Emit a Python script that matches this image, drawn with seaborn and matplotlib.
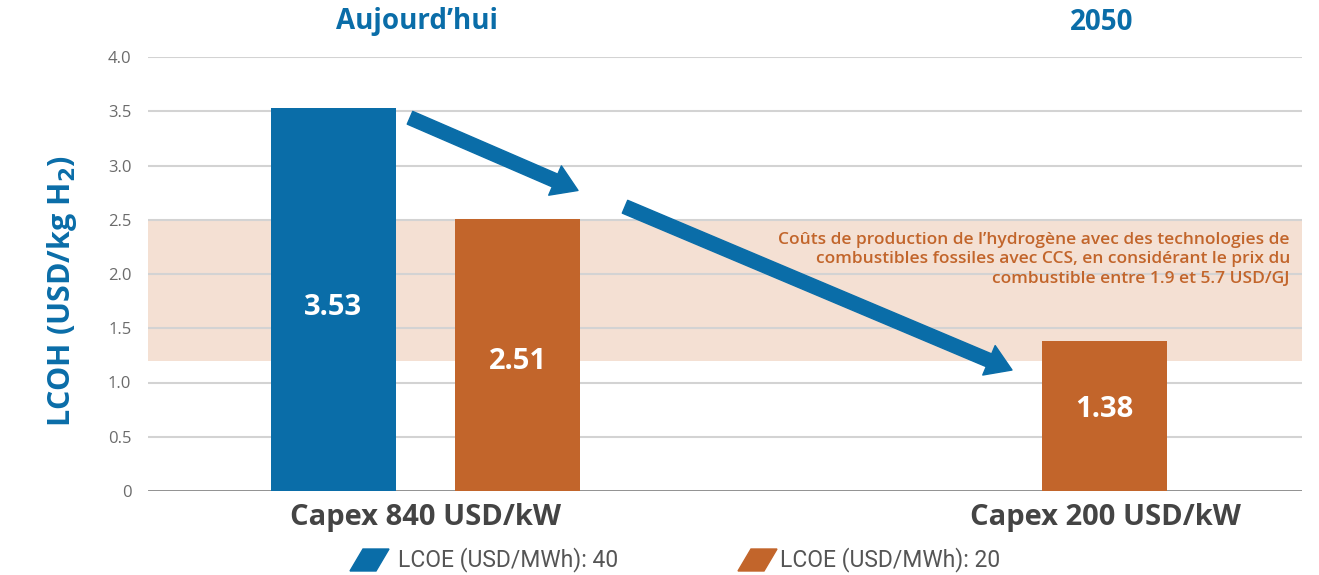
import matplotlib
matplotlib.use("Agg")
import matplotlib.pyplot as plt
from matplotlib.patches import Polygon
import seaborn as sns
import pandas as pd

# ---- data ----
periods = ["Aujourd’hui", "Aujourd’hui", "2050"]
capex_labels = ["Capex 840 USD/kW", "Capex 200 USD/kW"]
series = ["LCOE (USD/MWh): 40", "LCOE (USD/MWh): 20", "LCOE (USD/MWh): 20"]
values = [3.53, 2.51, 1.38]
band_range = [1.2, 2.5]
band_text = ("Coûts de production de l’hydrogène avec des technologies de\n"
             "combustibles fossiles avec CCS, en considérant le prix du\n"
             "combustible entre 1.9 et 5.7 USD/GJ")
yticks = [0, 0.5, 1.0, 1.5, 2.0, 2.5, 3.0, 3.5, 4.0]
ytick_labels = ["0", "0.5", "1.0", "1.5", "2.0", "2.5", "3.0", "3.5", "4.0"]
legend_labels = ["LCOE (USD/MWh): 40", "LCOE (USD/MWh): 20"]

# ---- style / layout ----
BLUE = "#0A6DA8"
ORANGE = "#C2652B"
BAND = "#F4E0D3"
bar_pos = [0, 184.5, 771.5]
label_y = [1.69, 1.19, 0.75]
palette = {legend_labels[0]: BLUE, legend_labels[1]: ORANGE}

sns.set_theme(style="white")
plt.rcParams['font.family'] = ['Open Sans', 'DejaVu Sans']

fig = plt.figure(figsize=(13.19, 5.75), dpi=100)
ax = fig.add_axes([148/1319, (575-491)/575, (1302-148)/1319, (491-57)/575])

df = pd.DataFrame({"pos": bar_pos, "value": values, "series": series, "period": periods})
sns.barplot(data=df, x="pos", y="value", hue="series", palette=palette,
            native_scale=True, dodge=False, width=125/184.5, saturation=1,
            legend=False, ax=ax, zorder=3, edgecolor="none")

ax.set_xlim(-185, 969)
ax.set_ylim(0, 4.0)
ax.axhspan(band_range[0], band_range[1], color=BAND, zorder=0, lw=0)
for y in yticks:
    ax.axhline(y, color="#888888" if y == 0 else "#D3D3D3",
               lw=2.0 if y == 0 else 1.5, zorder=1)
ax.set_yticks(yticks)
ax.set_yticklabels(ytick_labels, fontsize=12, color="#6B6B6B")
ax.tick_params(axis="y", length=0, pad=12)
ax.set_xticks([])
ax.set_xlabel("")
ax.set_ylabel("LCOH (USD/kg H$_\\mathbf{2}$)", fontsize=22, fontweight="bold",
              color=BLUE)
ax.yaxis.set_label_coords(-0.0745, 0.46)
ax.yaxis.label.set_va("center")
for s in ax.spines.values():
    s.set_visible(False)
ax.patch.set_alpha(0)

# value labels
for p, v, ly in zip(bar_pos, values, label_y):
    ax.text(p, ly, f"{v:.2f}", ha="center", va="center",
            color="white", fontsize=21, fontweight="bold", zorder=5)

# band text
ax.text(957, 2.39, band_text, ha="right", va="top", color=ORANGE,
        fontsize=12.5, fontweight="semibold", linespacing=1.3, zorder=4)

# arrows
arrow_style = "simple,head_length=0.9,head_width=1.15,tail_width=0.5"
ax.annotate("", xy=(245, 2.77), xytext=(77, 3.44),
            arrowprops=dict(arrowstyle=arrow_style, mutation_scale=20,
                            color=BLUE, shrinkA=0, shrinkB=0), zorder=6)
ax.annotate("", xy=(679, 1.115), xytext=(292, 2.62),
            arrowprops=dict(arrowstyle=arrow_style, mutation_scale=20,
                            color=BLUE, shrinkA=0, shrinkB=0), zorder=6)

# period titles
fig.text(417/1319, 1 - 22/575, periods[0], ha="center", va="center",
         fontsize=20, fontweight="bold", color=BLUE)
fig.text(1102/1319, 1 - 22/575, periods[2], ha="center", va="center",
         fontsize=20, fontweight="bold", color=BLUE)

# capex labels
fig.text(426/1319, 1 - 518/575, capex_labels[0], ha="center", va="center",
         fontsize=21, fontweight="bold", color="#444444")
fig.text(1105/1319, 1 - 518/575, capex_labels[1], ha="center", va="center",
         fontsize=21, fontweight="bold", color="#444444")

# legend (parallelogram swatches)
def swatch(x0, color):
    pts = [(x0, 571), (x0 + 26, 571), (x0 + 39, 549), (x0 + 13, 549)]
    pts = [(x / 1319, 1 - y / 575) for x, y in pts]
    fig.patches.append(Polygon(pts, closed=True, color=color,
                               transform=fig.transFigure, figure=fig))

swatch(350, BLUE)
fig.text(398/1319, 1 - 560/575, legend_labels[0], ha="left", va="center",
         fontsize=16.5, color="#555555", family=["Roboto", "DejaVu Sans"])
swatch(738, ORANGE)
fig.text(780/1319, 1 - 560/575, legend_labels[1], ha="left", va="center",
         fontsize=16.5, color="#555555", family=["Roboto", "DejaVu Sans"])

fig.savefig("out.png", dpi=100, facecolor="white")
